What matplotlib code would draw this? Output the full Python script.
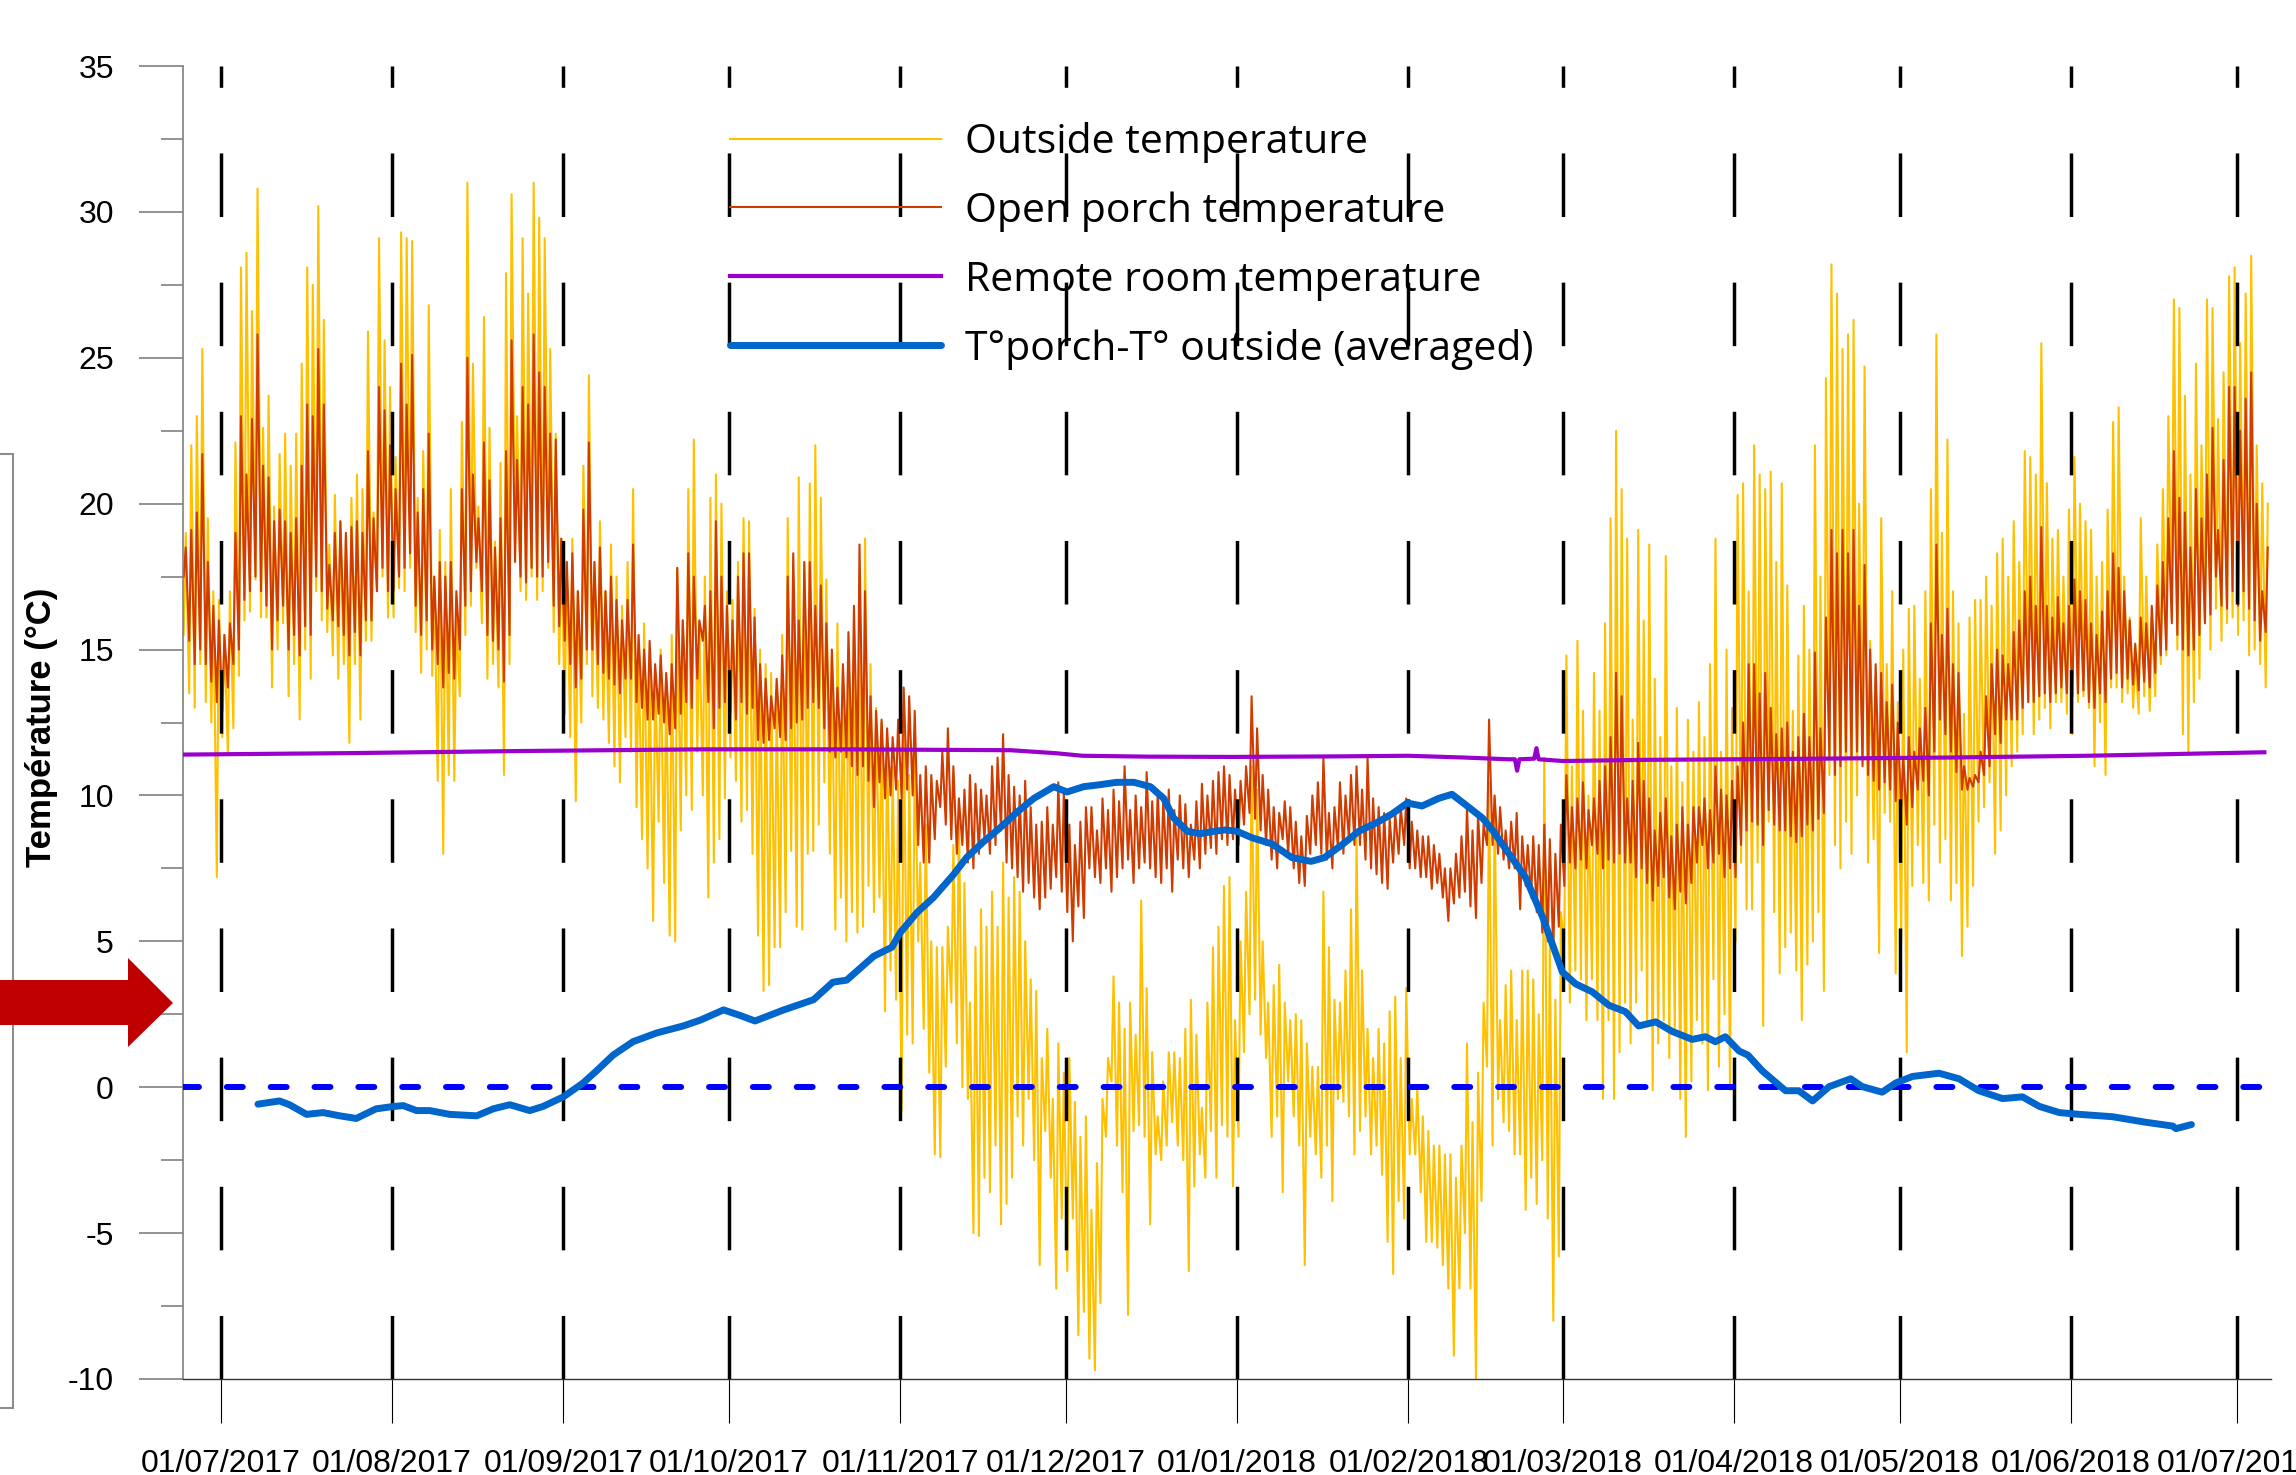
import numpy as np
import matplotlib
matplotlib.use("Agg")
import matplotlib.pyplot as plt
import matplotlib.dates as mdates
from matplotlib.ticker import MultipleLocator
from matplotlib.patches import Polygon, Rectangle
from datetime import datetime
import pandas as pd

plt.rcParams['font.family'] = ['Liberation Sans', 'DejaVu Sans']
plt.rcParams['axes.unicode_minus'] = False

START = datetime(2017, 6, 24)   # day 0 of the daily lists below

# outside temperature, daily max (one line per month)
out_hi = ([19.0, 22.0, 23.0, 25.3, 19.5, 17.0, 16.7] +
    [15.5, 17.0, 22.1, 28.1, 28.6, 26.6, 30.8, 22.6, 23.7, 19.9, 21.7, 22.4, 21.3, 22.4, 24.8, 28.1,
     27.5, 30.2, 26.3, 18.6, 20.3, 19.4, 18.8, 20.2, 21.0, 20.5, 25.9, 19.7, 29.1, 25.6, 24.0] +
    [21.6, 29.3, 29.1, 29.0, 20.2, 21.8, 26.8, 17.5, 19.1, 18.0, 20.5, 16.0, 22.8, 31.0, 24.8, 19.9,
     26.4, 22.6, 18.7, 21.4, 27.9, 30.6, 23.0, 29.1, 27.2, 31.0, 29.8, 29.1, 25.3, 22.4, 18.8] +
    [18.0, 18.8, 17.0, 21.3, 24.4, 18.0, 19.4, 17.0, 18.6, 17.5, 16.5, 18.0, 20.5, 15.0, 15.9, 14.5,
     14.2, 15.0, 14.0, 15.5, 17.8, 16.0, 20.5, 22.2, 15.9, 17.5, 20.2, 21.0, 20.0, 17.0] +
    [16.7, 18.0, 19.5, 19.4, 16.4, 15.0, 14.5, 14.2, 13.2, 15.5, 19.5, 17.5, 20.9, 18.0, 20.7, 22.0,
     20.2, 17.4, 14.8, 15.9, 14.2, 15.0, 16.0, 17.5, 18.8, 14.5, 13.0, 12.5, 12.0, 11.0, 10.5] +
    [13.0, 10.7, 12.0, 7.7, 9.0, 5.0, 4.8, 4.8, 5.5, 8.3, 9.4, 7.0, 2.9, 4.8, 6.1, 5.5,
     6.7, 5.5, 7.7, 6.5, 7.2, 6.7, 5.0, 3.7, 3.3, 1.0, 2.0, -0.4, 1.5, 0.5] +
    [1.0, -0.5, -1.7, -1.0, -4.2, -2.6, -0.4, 1.0, 3.8, 2.9, 2.0, 2.9, 1.8, 6.4, 3.4, 1.2,
     -1.0, 0.2, 1.2, 1.2, 1.0, 2.0, 3.0, 1.8, -0.7, 2.9, 4.8, 5.5, 6.9, 7.2, 2.3] +
    [5.0, 6.7, 11.0, 10.2, 5.0, 2.9, 3.5, 4.2, 2.9, 2.3, 2.5, 2.3, 1.5, 0.7, 0.7, 6.7,
     4.8, 3.0, 2.9, 4.0, 6.1, 8.6, 4.0, 2.0, 1.0, 2.0, 1.5, 2.6, 3.1, 1.0, 3.4] +
    [-0.4, 0.0, -1.0, -1.5, -2.0, -2.0, -2.3, -2.3, -3.1, -2.0, 1.5, -1.2, 0.5, 2.9, 10.45, 9.9,
     2.3, 3.5, 4.0, 2.3, 4.0, 4.0, 3.7, 2.5, 11.3, 5.0, 3.0, 6.0] +
    [14.8, 11.0, 15.3, 12.9, 10.0, 14.2, 12.9, 15.9, 19.5, 22.5, 20.5, 18.8, 12.6, 19.1, 16.0, 18.6,
     14.0, 12.0, 18.2, 11.0, 13.0, 10.45, 12.6, 11.5, 13.2, 12.0, 14.5, 18.8, 11.5, 15.0, 13.0] +
    [20.3, 20.7, 17.0, 22.0, 21.0, 20.5, 21.1, 18.0, 20.7, 17.2, 12.9, 14.8, 16.5, 15.0, 22.0, 17.5,
     24.3, 28.2, 27.2, 25.3, 25.8, 26.3, 20.0, 24.7, 15.3, 14.0, 19.5, 14.5, 17.0, 13.2] +
    [15.0, 16.4, 16.5, 14.0, 17.0, 20.5, 25.8, 19.0, 22.2, 17.0, 15.9, 12.8, 16.1, 16.7, 16.7, 17.5,
     16.5, 18.3, 18.8, 17.5, 19.4, 18.0, 21.8, 21.6, 21.0, 25.5, 20.7, 18.8, 19.1, 17.5, 19.8] +
    [21.6, 20.0, 19.4, 19.1, 17.5, 18.0, 19.8, 22.8, 23.3, 17.5, 16.1, 14.8, 19.5, 17.5, 16.1, 18.6,
     20.5, 23.0, 27.0, 26.7, 23.7, 21.0, 24.8, 22.0, 27.0, 26.7, 22.9, 24.5, 27.8, 28.1] +
    [25.5, 27.2, 28.5, 22.0, 20.7, 20.0])

# outside temperature, daily min
out_lo = ([15.5, 13.5, 13.0, 14.5, 13.2, 12.5, 7.2] +
    [12.0, 11.4, 12.3, 14.1, 16.0, 16.3, 17.4, 16.1, 16.1, 13.7, 15.0, 15.9, 13.4, 14.5, 12.6, 15.0,
     14.0, 17.0, 16.0, 15.6, 14.8, 14.0, 14.5, 11.8, 14.5, 12.6, 15.3, 15.3, 17.0, 17.5, 16.1] +
    [16.1, 17.1, 17.0, 17.8, 15.6, 14.2, 15.0, 14.1, 10.5, 8.0, 10.7, 10.5, 13.4, 15.5, 16.5, 17.8,
     15.9, 14.0, 14.5, 13.7, 10.7, 14.5, 18.6, 17.0, 16.7, 17.5, 16.7, 17.0, 17.8, 15.6, 14.5] +
    [12.8, 12.0, 9.8, 12.5, 14.5, 13.4, 13.0, 12.6, 11.8, 11.0, 10.45, 12.0, 11.5, 9.6, 8.5, 7.5,
     5.7, 9.1, 7.0, 5.2, 5.0, 8.8, 10.0, 9.5, 11.5, 10.0, 6.5, 7.7, 8.5, 9.9] +
    [11.3, 10.5, 9.1, 9.5, 8.0, 5.2, 3.3, 3.5, 4.8, 4.8, 6.0, 8.1, 5.5, 5.4, 8.0, 8.1,
     9.0, 10.45, 8.0, 5.4, 6.5, 5.0, 6.0, 5.3, 5.5, 6.9, 6.0, 6.5, 2.6, 4.0, 3.0] +
    [-0.8, 1.8, 1.5, 5.0, 2.0, 0.5, -2.3, -2.4, 0.7, 2.9, 1.5, 0.0, -0.4, -5.0, -5.1, -3.1,
     -3.6, -2.0, -4.7, -4.0, -3.1, -1.0, -2.0, -0.4, -2.5, -6.1, -1.5, -3.1, -6.9, -4.5] +
    [-6.3, -4.5, -8.5, -7.7, -9.3, -9.7, -7.4, -1.7, 0.2, -2.0, -3.6, -7.8, -1.5, -1.3, -1.7, -4.7,
     -2.3, -2.5, -2.0, -1.2, -2.0, -2.5, -6.3, -3.4, -2.3, -3.1, -1.5, -3.1, -1.3, -1.7, -3.4] +
    [-1.7, 1.2, 2.5, 3.0, 1.8, 1.0, -1.7, -1.0, -3.6, 0.2, -1.0, -2.0, -6.1, -1.7, -2.3, -3.1,
     -2.0, -3.9, -0.4, -0.5, -1.0, -2.3, -1.5, -1.0, -2.3, -2.0, -3.0, -5.3, -6.4, -3.9, -4.5] +
    [-2.3, -2.3, -3.6, -5.3, -5.3, -5.5, -6.1, -6.9, -9.2, -6.9, -5.0, -6.9, -10.0, -3.9, 0.7, -2.0,
     -0.4, -1.2, -1.5, -2.3, -2.3, -4.2, -3.1, -4.0, -2.5, -4.5, -8.0, -5.8] +
    [5.0, 2.9, 4.0, 3.7, 2.3, 3.7, 2.3, -0.4, 2.3, -0.4, 1.2, 2.9, 1.5, 2.9, 4.0, 2.3,
     -0.1, 1.5, 2.3, 1.0, 2.0, -0.4, -1.7, 0.2, 2.3, 1.5, -0.1, 3.7, 0.7, 2.5, -0.1] +
    [5.0, 7.7, 6.1, 6.1, 7.7, 2.1, 9.1, 6.0, 3.9, 4.8, 5.3, 4.0, 2.3, 4.2, 5.0, 6.0,
     3.3, 10.7, 8.3, 7.5, 9.1, 8.0, 10.0, 11.3, 7.7, 8.5, 4.6, 9.4, 9.1, 3.9] +
    [5.0, 1.2, 6.9, 8.3, 7.0, 6.4, 9.0, 7.7, 8.5, 6.4, 7.0, 4.5, 5.5, 6.9, 9.1, 9.6,
     10.45, 8.0, 8.8, 10.0, 11.0, 11.5, 12.1, 13.2, 12.1, 12.6, 13.0, 12.3, 13.2, 13.2, 12.8] +
    [12.1, 13.2, 13.4, 13.0, 11.0, 12.5, 10.7, 13.7, 13.7, 13.2, 13.5, 13.0, 12.8, 13.4, 12.9, 13.4,
     14.5, 14.8, 16.1, 15.0, 12.1, 11.5, 13.2, 14.0, 15.9, 15.0, 16.4, 15.3, 15.9, 16.1] +
    [15.5, 16.0, 14.8, 15.0, 14.5, 13.7])

# open porch temperature, daily max
porch_hi = ([18.5, 19.1, 19.7, 21.7, 18.0, 16.5, 16.0] +
    [15.5, 15.9, 19.0, 23.0, 21.0, 22.9, 25.8, 21.3, 20.9, 19.4, 19.8, 19.4, 19.0, 19.5, 21.3, 23.4,
     23.0, 25.3, 23.4, 17.9, 19.0, 19.4, 19.0, 19.2, 19.4, 19.0, 21.8, 19.5, 24.0, 23.2, 22.0] +
    [20.5, 24.8, 23.4, 25.1, 19.7, 20.5, 22.4, 17.5, 18.0, 17.5, 18.0, 17.0, 20.5, 25.0, 21.0, 19.5,
     22.1, 20.8, 18.5, 19.5, 21.8, 25.6, 21.5, 24.0, 23.4, 25.8, 24.5, 24.0, 22.4, 22.2, 18.8] +
    [18.0, 18.3, 17.0, 19.8, 22.1, 18.0, 18.5, 17.0, 17.5, 16.7, 16.0, 16.7, 18.6, 15.5, 15.0, 15.3,
     14.5, 14.8, 14.2, 14.5, 17.8, 16.0, 18.3, 17.5, 16.0, 16.5, 17.0, 19.4, 17.5, 16.5] +
    [16.0, 17.5, 18.3, 18.3, 16.1, 14.5, 14.0, 13.4, 14.0, 14.8, 17.5, 18.3, 16.0, 18.0, 18.0, 16.5,
     17.2, 15.9, 15.0, 13.7, 14.5, 15.6, 16.5, 18.6, 17.0, 13.4, 12.9, 12.6, 12.3, 12.0, 12.6] +
    [13.7, 13.4, 12.9, 10.7, 11.0, 10.7, 10.5, 11.5, 12.3, 11.0, 9.9, 10.2, 10.7, 10.4, 10.2, 10.0,
     11.0, 11.3, 12.1, 10.7, 10.3, 10.0, 10.5, 9.6, 9.0, 9.1, 9.6, 9.0, 10.45, 10.2] +
    [9.0, 8.3, 9.1, 9.6, 9.6, 8.8, 9.9, 9.5, 10.2, 9.8, 11.0, 9.5, 10.0, 9.6, 10.8, 9.8,
     10.2, 9.9, 10.2, 9.5, 10.0, 9.7, 9.0, 9.8, 10.4, 10.0, 10.5, 10.8, 11.0, 10.7, 10.2] +
    [10.5, 11.0, 13.4, 12.3, 10.7, 10.2, 9.6, 9.4, 9.8, 9.6, 9.1, 8.6, 9.3, 10.0, 10.45, 11.3,
     9.4, 9.6, 10.45, 10.0, 10.7, 11.0, 10.2, 11.3, 9.9, 9.6, 9.4, 9.2, 9.4, 9.6, 9.9] +
    [9.1, 8.8, 8.6, 8.6, 8.3, 8.0, 7.5, 7.5, 8.0, 8.6, 9.6, 8.8, 9.4, 9.0, 12.6, 10.0,
     9.6, 8.8, 9.1, 9.4, 8.6, 8.3, 8.6, 8.3, 9.0, 8.5, 8.0, 9.0] +
    [10.7, 9.6, 9.9, 10.45, 9.5, 9.9, 10.5, 11.0, 12.0, 14.2, 13.4, 9.9, 10.5, 11.8, 10.5, 9.9,
     8.8, 9.4, 9.9, 8.6, 9.0, 9.6, 9.0, 9.6, 9.6, 9.9, 9.5, 11.0, 10.2, 10.0, 10.5] +
    [11.0, 12.5, 14.5, 14.5, 13.5, 14.2, 13.0, 12.1, 12.3, 12.5, 11.5, 12.0, 12.8, 12.0, 14.9, 12.3,
     16.1, 19.1, 18.3, 19.1, 18.3, 19.1, 16.5, 17.9, 15.0, 14.5, 14.2, 13.2, 13.8, 12.5] +
    [11.3, 12.0, 11.5, 12.3, 13.0, 15.9, 18.6, 15.5, 16.4, 14.5, 14.2, 11.0, 10.6, 10.7, 11.5, 13.4,
     14.5, 15.0, 14.8, 14.5, 15.6, 16.0, 17.0, 17.5, 16.5, 19.2, 16.5, 16.1, 16.8, 15.9, 16.5] +
    [17.4, 17.0, 16.7, 15.9, 15.5, 16.3, 17.0, 18.3, 17.8, 17.0, 16.0, 15.2, 16.1, 15.9, 16.5, 17.2,
     18.0, 19.5, 21.8, 20.2, 19.7, 18.5, 20.5, 19.5, 21.0, 22.6, 19.1, 21.5, 24.0, 24.0] +
    [22.5, 23.6, 24.5, 20.0, 17.0, 18.5])

# open porch temperature, daily min
porch_lo = ([17.5, 15.3, 14.5, 15.0, 14.5, 13.9, 13.2] +
    [12.9, 13.7, 14.5, 15.0, 16.7, 17.0, 17.5, 17.0, 16.5, 15.0, 16.0, 16.5, 15.0, 15.5, 14.8, 15.8,
     15.5, 17.5, 17.0, 16.4, 16.0, 15.8, 15.5, 14.8, 15.6, 14.8, 16.0, 16.0, 17.0, 17.8, 17.0] +
    [17.0, 17.5, 17.8, 18.3, 16.5, 15.5, 16.0, 15.0, 14.5, 13.7, 14.2, 14.0, 15.0, 16.5, 17.0, 18.0,
     17.0, 15.5, 15.3, 15.0, 13.9, 15.5, 18.0, 17.5, 17.3, 17.8, 17.5, 17.5, 18.0, 16.5, 15.8] +
    [15.3, 14.5, 13.7, 14.0, 15.0, 15.0, 14.5, 14.2, 14.0, 13.8, 13.5, 14.0, 14.0, 13.2, 13.0, 12.6,
     12.6, 12.8, 12.5, 12.1, 12.3, 12.8, 13.2, 13.0, 14.0, 15.3, 13.2, 12.3, 13.0, 13.2] +
    [12.8, 12.6, 13.2, 12.8, 13.0, 11.9, 11.8, 11.9, 12.3, 12.0, 11.9, 12.3, 12.5, 12.6, 13.0, 13.2,
     13.0, 12.3, 11.5, 11.3, 11.5, 11.3, 11.0, 10.7, 11.0, 10.5, 9.6, 10.45, 9.9, 10.0, 10.2] +
    [9.9, 10.2, 10.0, 8.3, 7.7, 7.7, 8.5, 9.6, 9.0, 8.5, 8.0, 8.3, 7.7, 7.5, 8.0, 8.5,
     8.0, 8.3, 8.8, 7.7, 7.5, 7.2, 6.7, 7.0, 6.5, 6.1, 6.5, 6.8, 7.2, 6.7] +
    [6.0, 5.0, 6.2, 5.8, 7.5, 7.2, 7.0, 7.5, 6.7, 7.2, 7.5, 7.8, 7.0, 7.5, 7.7, 7.5,
     7.2, 7.0, 7.5, 6.7, 7.8, 7.5, 7.2, 7.8, 7.5, 8.0, 8.2, 8.0, 8.5, 8.3, 8.5] +
    [8.3, 9.0, 9.4, 9.2, 8.8, 8.3, 7.8, 7.5, 8.5, 8.0, 7.5, 7.0, 6.9, 8.0, 8.3, 8.0,
     7.8, 7.5, 8.2, 8.0, 8.5, 8.3, 8.3, 7.8, 7.5, 7.3, 7.0, 6.8, 7.7, 8.0, 8.3] +
    [7.5, 7.5, 7.2, 7.2, 6.8, 7.0, 6.5, 5.7, 6.3, 6.5, 6.7, 6.2, 5.8, 7.0, 8.3, 8.3,
     8.0, 7.8, 7.5, 7.5, 6.1, 6.9, 6.5, 6.0, 5.3, 5.0, 4.6, 5.5] +
    [6.9, 7.7, 7.5, 7.8, 7.5, 8.3, 8.0, 7.5, 7.8, 7.7, 8.0, 7.7, 7.7, 7.2, 7.5, 7.0,
     6.4, 6.9, 7.2, 6.5, 6.1, 6.7, 6.3, 7.0, 7.7, 8.3, 7.5, 7.7, 8.0, 7.2, 7.5] +
    [7.2, 8.3, 8.8, 9.1, 9.0, 8.3, 9.5, 9.0, 8.8, 8.8, 8.6, 8.4, 8.6, 9.0, 8.8, 9.2,
     9.4, 11.3, 10.7, 11.0, 11.5, 11.3, 11.5, 11.0, 10.7, 10.5, 10.2, 10.45, 10.2, 9.8] +
    [9.6, 9.0, 9.6, 10.2, 10.5, 10.0, 11.5, 12.6, 12.1, 11.5, 10.8, 10.2, 10.2, 10.3, 10.45, 10.7,
     11.0, 12.1, 11.8, 12.6, 12.6, 12.6, 13.0, 13.2, 13.2, 13.4, 13.5, 13.2, 13.5, 13.7, 13.5] +
    [13.4, 13.5, 13.6, 13.2, 13.0, 13.5, 13.2, 14.0, 14.2, 13.7, 14.0, 13.8, 13.6, 13.9, 13.7, 14.2,
     14.8, 15.0, 15.9, 15.5, 15.0, 14.8, 15.0, 15.5, 15.9, 16.2, 17.5, 16.5, 16.4, 17.0] +
    [16.5, 17.0, 16.4, 16.0, 15.3, 15.6])

# remote room temperature (day index, value)
room_days = [0, 30, 60, 94, 120, 150, 158, 163, 175, 190, 210, 222, 232, 240, 241.3, 241.7, 242.1,
             244.8, 245.2, 245.6, 250, 265, 290, 320, 345, 377]
room_vals = [11.40, 11.45, 11.52, 11.58, 11.58, 11.55, 11.45, 11.36, 11.33, 11.32, 11.34, 11.36, 11.30,
             11.24, 11.24, 10.85, 11.24, 11.26, 11.62, 11.24, 11.18, 11.22, 11.25, 11.30, 11.36, 11.48]

# porch - outside, averaged (day index, value)
diff_days = [13.7, 17.6, 19.4, 22.5, 25.5, 28.5, 31.5, 35.1, 38.2, 40, 42.4, 44.8, 48.4, 53.3, 56.3, 59.3,
             62.9, 65.3, 69, 72.6, 75, 78, 81.6, 85.9, 90.7, 93.8, 98, 101, 103.7, 108.9, 114.3, 117.8,
             120.3, 125.2, 128.5, 130, 133, 136, 139.7, 142, 145, 148, 151.1, 154.2, 157.8, 160.2, 163.2,
             166.2, 169.2, 172.3, 175.3, 177.7, 179.5, 182, 184.3, 186.8, 188.9, 191, 193.7, 197.3, 200.9,
             204.4, 206.8, 209.8, 213, 216, 219, 221.8, 224.5, 227.5, 229.9, 232.3, 235.4, 237.2, 240.2,
             243.2, 246.3, 249.9, 252.3, 255.3, 258.3, 261.3, 263.7, 266.8, 269.8, 273.4, 275.8, 277.6,
             279.4, 281.9, 283.5, 286.1, 290.3, 292.7, 295.2, 298.2, 302.1, 304.2, 307.8, 310.3, 313.3,
             318.1, 321.7, 325.3, 329.6, 333.2, 336.3, 339.9, 343.5, 349.5, 355.5, 360.4, 361, 363.8]
diff_vals = [-0.58, -0.47, -0.6, -0.93, -0.87, -0.98, -1.07, -0.74, -0.66, -0.63, -0.8, -0.8, -0.93, -0.98,
             -0.74, -0.6, -0.8, -0.66, -0.33, 0.15, 0.56, 1.1, 1.56, 1.86, 2.1, 2.3, 2.65, 2.46, 2.27, 2.65,
             3.0, 3.6, 3.67, 4.49, 4.8, 5.3, 5.98, 6.5, 7.3, 7.87, 8.4, 8.88, 9.42, 9.9, 10.3, 10.12, 10.3,
             10.37, 10.45, 10.45, 10.3, 9.9, 9.23, 8.77, 8.69, 8.77, 8.82, 8.77, 8.55, 8.34, 7.87, 7.74,
             7.87, 8.28, 8.77, 9.04, 9.36, 9.74, 9.64, 9.9, 10.04, 9.69, 9.23, 8.82, 8.01, 7.2, 5.84, 3.95,
             3.54, 3.27, 2.81, 2.59, 2.1, 2.24, 1.91, 1.64, 1.73, 1.56, 1.73, 1.24, 1.1, 0.56, -0.12, -0.12,
             -0.47, 0.02, 0.29, 0.02, -0.17, 0.15, 0.37, 0.48, 0.29, -0.12, -0.39, -0.33, -0.66, -0.87,
             -0.93, -1.01, -1.2, -1.33, -1.42, -1.28]

months = pd.date_range('2017-07-01', '2018-07-01', freq='MS')

base = mdates.date2num(START)
days = np.arange(len(out_hi))
t = base + np.repeat(days, 2) + np.tile([0.25, 0.62], len(days))
outside = np.column_stack([out_lo, out_hi]).ravel()
porch = np.column_stack([porch_lo, porch_hi]).ravel()

W, H = 2296, 1475
fig = plt.figure(figsize=(W / 100, H / 100), dpi=100)
ax = fig.add_axes([183 / W, 1 - 1379 / H, (2271 - 183) / W, (1379 - 66) / H])

ax.plot(t, outside, color='#FFC000', lw=1.5, zorder=1.5, label='Outside temperature')
ax.plot(t, porch, color='#D03C00', lw=1.5, zorder=2, label='Open porch temperature')
ax.plot(base + np.array(room_days), room_vals, color='#9900CC', lw=3, zorder=4,
        label='Remote room temperature')
ax.plot(base + np.array(diff_days), diff_vals, color='#0066CC', lw=5, zorder=5,
        solid_capstyle='round', solid_joinstyle='round', label='T°porch-T° outside (averaged)')

ax.axhline(0, color='#0000FF', lw=4.3, linestyle=(0, (2.67, 4.67)), dash_capstyle='round', zorder=4)
for m in months:
    ax.axvline(mdates.date2num(m), color='black', lw=2.5, linestyle=(0, (18.3, 18.9)), zorder=3)

ax.set_xlim(mdates.date2num(datetime(2017, 6, 24, 3)), mdates.date2num(datetime(2018, 7, 7, 5)))
ax.set_ylim(-10, 35)
ax.xaxis.set_major_locator(mdates.MonthLocator(bymonthday=1))
ax.xaxis.set_major_formatter(mdates.DateFormatter('%d/%m/%Y'))
ax.yaxis.set_major_locator(MultipleLocator(5))
ax.yaxis.set_minor_locator(MultipleLocator(2.5))

for s in ['top', 'right']:
    ax.spines[s].set_visible(False)
ax.spines['left'].set_color('#808080')
ax.spines['left'].set_linewidth(1.2)
ax.spines['bottom'].set_color('#333333')
ax.spines['bottom'].set_linewidth(1.0)

ax.tick_params(axis='x', direction='out', length=31.7, width=0.8, color='black', pad=19, labelsize=23)
ax.tick_params(axis='y', which='major', direction='out', length=31.7, width=1.2, color='#808080',
               pad=18, labelsize=23)
ax.tick_params(axis='y', which='minor', direction='out', length=15.8, width=1.2, color='#808080')

fig.text(42 / W, 1 - 727 / H, 'Température (°C)', rotation=90, fontsize=25, fontweight='bold',
         ha='center', va='center')

ax.legend(loc='upper left', bbox_to_anchor=(730 / W, 1 - 122 / H), bbox_transform=fig.transFigure,
          frameon=False, borderaxespad=0, borderpad=0, handlelength=5.15, handletextpad=0.59,
          labelspacing=0.69, prop={'family': 'Open Sans', 'size': 29.5})

# left bracket and red arrow
fig.add_artist(Rectangle((-20 / W, 1 - 1408 / H), 33 / W, (1408 - 454) / H, transform=fig.transFigure,
                         fill=False, edgecolor='#8c8c8c', lw=1.5))
arrow = [(-5, 980), (128, 980), (128, 958), (173, 1003), (128, 1047), (128, 1025), (-5, 1025)]
fig.add_artist(Polygon([(x / W, 1 - y / H) for x, y in arrow], closed=True, transform=fig.transFigure,
                       facecolor='#C00000', edgecolor='none'))

fig.savefig('out.png', dpi=100)
